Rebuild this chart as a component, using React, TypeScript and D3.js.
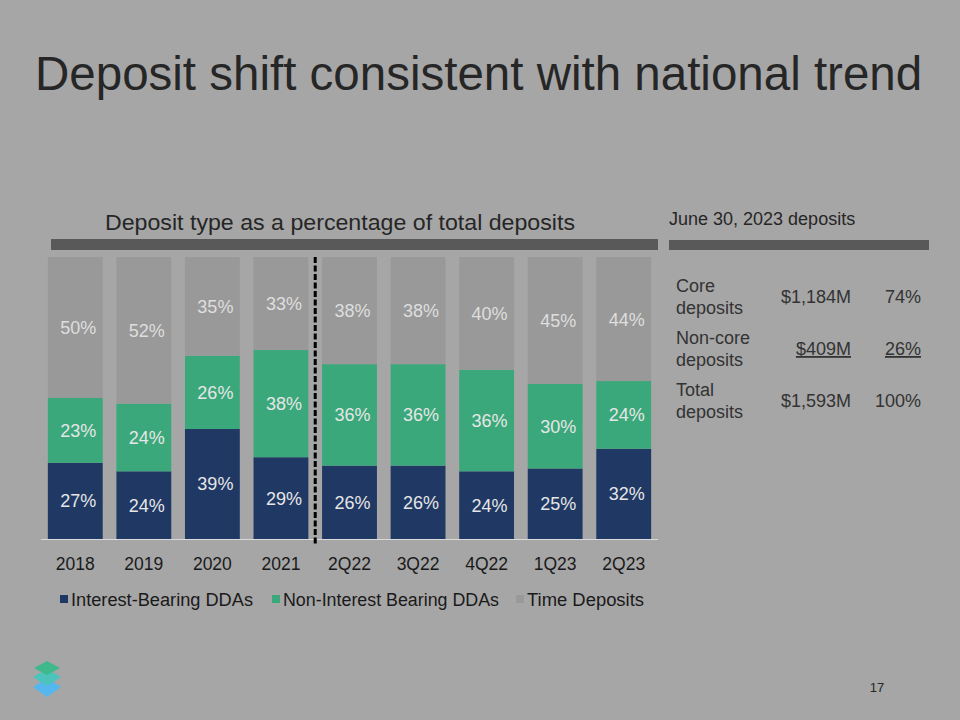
import * as React from "react";
import * as d3 from "d3";

const categories = ["2018", "2019", "2020", "2021", "2Q22", "3Q22", "4Q22", "1Q23", "2Q23"];
const interestBearing = [27, 24, 39, 29, 26, 26, 24, 25, 32];
const nonInterestBearing = [23, 24, 26, 38, 36, 36, 36, 30, 24];
const timeDeposits = [50, 52, 35, 33, 38, 38, 40, 45, 44];
const seriesNames = ["Interest-Bearing DDAs", "Non-Interest Bearing DDAs", "Time Deposits"];
const seriesColors = ["#203864", "#3aa87a", "#999999"];
const labelColors = ["#e6e6e6", "#e6e6e6", "#dedede"];

const tableRows = [
  { label: ["Core", "deposits"], amount: "$1,184M", pct: "74%", underline: false },
  { label: ["Non-core", "deposits"], amount: "$409M", pct: "26%", underline: true },
  { label: ["Total", "deposits"], amount: "$1,593M", pct: "100%", underline: false },
];

const FONT = "Liberation Sans, Arial, sans-serif";

export default function App() {
  const width = 960;
  const height = 720;

  const xScale = d3.scaleBand().domain(categories).range([41, 658]).paddingInner(0.2).paddingOuter(0.1);
  const yScale = d3.scaleLinear().domain([0, 100]).range([539, 257]);

  const rows = categories.map((c, i) => ({
    cat: c,
    a: interestBearing[i],
    b: nonInterestBearing[i],
    c: timeDeposits[i],
  }));
  const stack = d3.stack<any>().keys(["a", "b", "c"]);
  const layers = stack(rows);

  // dashed separator between annual and quarterly bars
  const sepX = ((xScale("2021") ?? 0) + xScale.bandwidth() + (xScale("2Q22") ?? 0)) / 2;

  // legend layout (square x, text width)
  const legendX = [60, 272, 516];
  const legendW = [182, 216, 117];

  return (
    <svg
      width={width}
      height={height}
      style={{ position: "absolute", left: 0, top: 0, fontFamily: FONT }}
    >
      <rect width={width} height={height} fill="#a6a6a6" />

      <text x={35} y={90} fontSize={47.5} fill="#262626">
        Deposit shift consistent with national trend
      </text>

      <text x={340} y={230} fontSize={22} fill="#262626" textAnchor="middle" textLength={470} lengthAdjust="spacingAndGlyphs">
        Deposit type as a percentage of total deposits
      </text>
      <rect x={51} y={239} width={607} height={11} fill="#595959" />

      {layers.map((layer, li) => (
        <g key={li}>
          {layer.map((d, i) => (
            <rect
              key={i}
              x={xScale(categories[i])}
              y={yScale(d[1])}
              width={xScale.bandwidth()}
              height={yScale(d[0]) - yScale(d[1])}
              fill={seriesColors[li]}
            />
          ))}
          {layer.map((d, i) => (
            <text
              key={"t" + i}
              x={(xScale(categories[i]) ?? 0) + xScale.bandwidth() / 2 + 3}
              y={(yScale(d[0]) + yScale(d[1])) / 2}
              dy="0.36em"
              textAnchor="middle"
              fontSize={18}
              fill={labelColors[li]}
            >
              {`${d[1] - d[0]}%`}
            </text>
          ))}
        </g>
      ))}

      <line x1={41} x2={658} y1={539.5} y2={539.5} stroke="#d9d9d9" strokeWidth={1} />
      <line x1={sepX} x2={sepX} y1={257} y2={546} stroke="#000" strokeWidth={3} strokeDasharray="6,2.5" />

      {categories.map((c) => (
        <text
          key={c}
          x={(xScale(c) ?? 0) + xScale.bandwidth() / 2}
          y={570}
          textAnchor="middle"
          fontSize={17.5}
          fill="#1a1a1a"
        >
          {c}
        </text>
      ))}

      {seriesNames.map((n, i) => (
        <g key={n} transform={`translate(${legendX[i]},0)`}>
          <rect x={0} y={595} width={8} height={8} fill={seriesColors[i]} />
          <text x={11} y={606} fontSize={18} fill="#1a1a1a" textLength={legendW[i]} lengthAdjust="spacingAndGlyphs">
            {n}
          </text>
        </g>
      ))}

      <text x={669} y={225} fontSize={18} fill="#262626">
        June 30, 2023 deposits
      </text>
      <rect x={669} y={240} width={260} height={10} fill="#595959" />

      {tableRows.map((r, i) => {
        const top = 292 + i * 52;
        return (
          <g key={i} fontSize={18} fill="#333333">
            <text x={676} y={top}>
              {r.label[0]}
            </text>
            <text x={676} y={top + 22}>
              {r.label[1]}
            </text>
            <text x={851} y={top + 11} textAnchor="end" textDecoration={r.underline ? "underline" : undefined}>
              {r.amount}
            </text>
            <text x={921} y={top + 11} textAnchor="end" textDecoration={r.underline ? "underline" : undefined}>
              {r.pct}
            </text>
          </g>
        );
      })}

      <text x={877} y={692} fontSize={13} fill="#262626" textAnchor="middle">
        17
      </text>

      <g>
        <polygon points="33,687 47,678 61,687 47,697" fill="#55b7ee" />
        <polygon points="33,677 47,669 61,677 47,686" fill="#4cc3bb" />
        <polygon points="34,668 47,661 60,668 47,675" fill="#3fb88c" />
      </g>
    </svg>
  );
}
